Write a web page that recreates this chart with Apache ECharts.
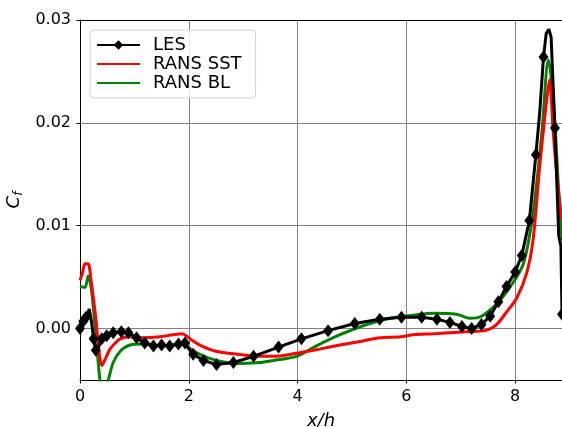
<!DOCTYPE html>
<html>
<head>
<meta charset="utf-8">
<script src="https://cdn.jsdelivr.net/npm/echarts@6/dist/echarts.min.js"></script>
<style>
  html, body { margin: 0; padding: 0; background: #fff; }
  #chart { width: 562px; height: 427px; }
</style>
</head>
<body>
<div id="chart"></div>
<script>
// LES: x/h, Cf, marker flag (1 = diamond drawn)
var lesX = [0.00, 0.06, 0.11, 0.17, 0.21, 0.25, 0.29, 0.34, 0.40, 0.49, 0.61, 0.76, 0.89, 1.04, 1.19, 1.35, 1.50, 1.65, 1.81, 1.93, 1.99,
            2.08, 2.27, 2.51, 2.82, 3.19, 3.65, 4.07, 4.56, 5.05, 5.51, 5.91, 6.28, 6.56, 6.80, 7.02, 7.20, 7.38, 7.54, 7.69,
            7.84, 8.00, 8.12, 8.26, 8.38, 8.45, 8.52, 8.57, 8.62, 8.66, 8.73, 8.78, 8.80, 8.84, 8.86];
var lesY = [0.0000, 0.0007, 0.0011, 0.0019, 0.0007, -0.0010, -0.0021, -0.0018, -0.0010, -0.0007, -0.0004, -0.0003, -0.0004, -0.0009, -0.0014, -0.0017, -0.0016, -0.0017, -0.0015, -0.0014, -0.0019,
            -0.0025, -0.0031, -0.0035, -0.0033, -0.0027, -0.0018, -0.0010, -0.0002, 0.0005, 0.0009, 0.0011, 0.0011, 0.0009, 0.0006, 0.0002, 0.0000, 0.0004, 0.0012, 0.0026,
            0.0041, 0.0055, 0.0071, 0.0105, 0.0169, 0.0210, 0.0264, 0.0287, 0.0291, 0.0283, 0.0195, 0.0120, 0.0090, 0.0080, 0.0014];
var lesMark = [1, 1, 1, 0, 0, 1, 1, 0, 1, 1, 1, 1, 1, 1, 1, 1, 1, 1, 1, 1, 0,
               1, 1, 1, 1, 1, 1, 1, 1, 1, 1, 1, 1, 1, 1, 1, 1, 1, 1, 1,
               1, 1, 1, 1, 1, 0, 1, 0, 0, 0, 1, 0, 0, 0, 1];

// RANS SST
var sstX = [0.00, 0.05, 0.09, 0.15, 0.20, 0.25, 0.30, 0.35, 0.40, 0.47, 0.55, 0.65, 0.74, 0.92, 1.16, 1.47, 1.71, 1.88, 1.95, 2.05, 2.20,
            2.50, 2.90, 3.30, 3.55, 3.98, 4.40, 4.78, 5.20, 5.51, 5.90, 6.13, 6.50, 7.10, 7.45, 7.64, 7.84, 8.03, 8.21, 8.33, 8.45,
            8.58, 8.63, 8.70, 8.78, 8.86];
var sstY = [0.0047, 0.0055, 0.0063, 0.0063, 0.0048, 0.0028, 0.0005, -0.0022, -0.0036, -0.0029, -0.0020, -0.0014, -0.0010, -0.0008, -0.0009, -0.0008, -0.0006, -0.0005, -0.0007, -0.0011, -0.0016,
            -0.0022, -0.0025, -0.0027, -0.0027, -0.0024, -0.0020, -0.0016, -0.0012, -0.0009, -0.0008, -0.0006, -0.0005, -0.0003, -0.0002, 0.0003, 0.0016, 0.0030, 0.0054, 0.0087, 0.0158,
            0.0223, 0.0242, 0.0190, 0.0140, 0.0105];

// RANS BL
var blX = [0.00, 0.09, 0.15, 0.21, 0.28, 0.33, 0.38, 0.44, 0.52, 0.61, 0.74, 0.92, 1.16, 1.47, 1.71, 1.90, 1.98, 2.20, 2.51, 2.88,
           3.30, 3.55, 3.98, 4.34, 4.78, 5.27, 5.70, 6.13, 6.50, 6.92, 7.17, 7.38, 7.66, 7.90, 8.15, 8.33, 8.49, 8.61, 8.70, 8.79, 8.86];
var blY = [0.0041, 0.0040, 0.0051, 0.0038, 0.0000, -0.0030, -0.0055, -0.0063, -0.0050, -0.0033, -0.0022, -0.0016, -0.0015, -0.0017, -0.0016, -0.0015, -0.0018, -0.0025, -0.0031, -0.0034,
           -0.0033, -0.0031, -0.0027, -0.0017, -0.0006, 0.0004, 0.0010, 0.0013, 0.0015, 0.0014, 0.0010, 0.0012, 0.0024, 0.0040, 0.0063, 0.0113, 0.0190, 0.0261, 0.0223, 0.0142, 0.0085];

var xTicks = [0, 2, 4, 6, 8];
var yTicks = [0, 0.01, 0.02, 0.03];

function pairs(xs, ys) {
    var out = [];
    for (var i = 0; i < xs.length; i++) out.push([xs[i], ys[i]]);
    return out;
}

var lesData = [];
for (var i = 0; i < lesX.length; i++) {
    var item = { value: [lesX[i], lesY[i]] };
    if (!lesMark[i]) item.symbol = 'none';
    lesData.push(item);
}

var font = 'DejaVu Sans';
var noSym = { color: 'rgba(0,0,0,0)', borderWidth: 0 };
var chart = echarts.init(document.getElementById('chart'));
var option = {
    animation: false,
    textStyle: { fontFamily: font },
    grid: { left: 80, top: 20, right: 0, bottom: 47, outerBoundsMode: 'none', containLabel: false },
    legend: {
        orient: 'vertical',
        left: 90, top: 30,
        padding: [6, 14, 6, 6],
        itemWidth: 43, itemHeight: 12, itemGap: 1,
        borderColor: '#d0d0d0', borderWidth: 1, borderRadius: 4,
        backgroundColor: 'rgba(255,255,255,0.8)',
        textStyle: { fontSize: 18, color: '#000', fontFamily: font, lineHeight: 18, padding: [0, 0, 0, 8] },
        data: [
            { name: 'LES' },
            { name: 'RANS SST', itemStyle: noSym },
            { name: 'RANS BL', itemStyle: noSym }
        ]
    },
    xAxis: [{
        type: 'value', min: 0, max: 8.86, interval: 2,
        name: 'x/h', nameLocation: 'middle', nameGap: 32,
        nameTextStyle: { fontSize: 18, fontStyle: 'italic', color: '#000', fontFamily: font },
        axisLine: { onZero: false, lineStyle: { color: '#000', width: 1 } },
        axisTick: { length: 3.5, lineStyle: { color: '#000' } },
        axisLabel: { fontSize: 16, color: '#000', margin: 9, showMaxLabel: false,
            formatter: function (v) { return xTicks.indexOf(v) >= 0 ? String(v) : ''; } },
        splitLine: { show: true, lineStyle: { color: '#808080', width: 1 } }
    }, {
        type: 'value', min: 0, max: 8.86, position: 'top',
        axisLine: { show: true, onZero: false, lineStyle: { color: '#000', width: 1 } },
        axisTick: { show: false }, axisLabel: { show: false }, splitLine: { show: false }
    }],
    yAxis: [{
        type: 'value', min: -0.005, max: 0.03, interval: 0.005,
        axisLine: { show: true, onZero: false, lineStyle: { color: '#000', width: 1 } },
        axisTick: { show: false }, axisLabel: { show: false },
        splitLine: { show: true, lineStyle: { color: ['rgba(0,0,0,0)', '#808080'], width: 1 } }
    }, {
        type: 'value', min: -0.005, max: 0.03, position: 'left',
        name: '{c|C}{f|f}', nameLocation: 'middle', nameGap: 50, nameRotate: 90,
        nameTextStyle: { rich: {
            c: { fontSize: 18, fontStyle: 'italic', color: '#000', fontFamily: font },
            f: { fontSize: 12, fontStyle: 'italic', color: '#000', fontFamily: font, verticalAlign: 'bottom', padding: [8, 0, 0, 0] }
        } },
        axisLine: { show: false, onZero: false },
        axisTick: { show: true, length: 3.5, customValues: yTicks, lineStyle: { color: '#000' } },
        axisLabel: { fontSize: 16, color: '#000', margin: 9, customValues: yTicks,
            formatter: function (v) { return v.toFixed(2); } },
        splitLine: { show: false }
    }],
    series: [{
        name: 'LES', type: 'line', data: lesData,
        symbol: 'diamond', symbolSize: [10, 13], showAllSymbol: true,
        lineStyle: { color: '#000', width: 3 },
        itemStyle: { color: '#000' },
        z: 5
    }, {
        name: 'RANS SST', type: 'line', data: pairs(sstX, sstY),
        symbol: 'none', smooth: 0.3,
        lineStyle: { color: '#ff0000', width: 3 },
        itemStyle: { color: '#ff0000' },
        z: 4
    }, {
        name: 'RANS BL', type: 'line', data: pairs(blX, blY),
        symbol: 'none', smooth: 0.3,
        lineStyle: { color: '#008000', width: 3 },
        itemStyle: { color: '#008000' },
        z: 3
    }]
};
chart.setOption(option);
</script>
</body>
</html>
